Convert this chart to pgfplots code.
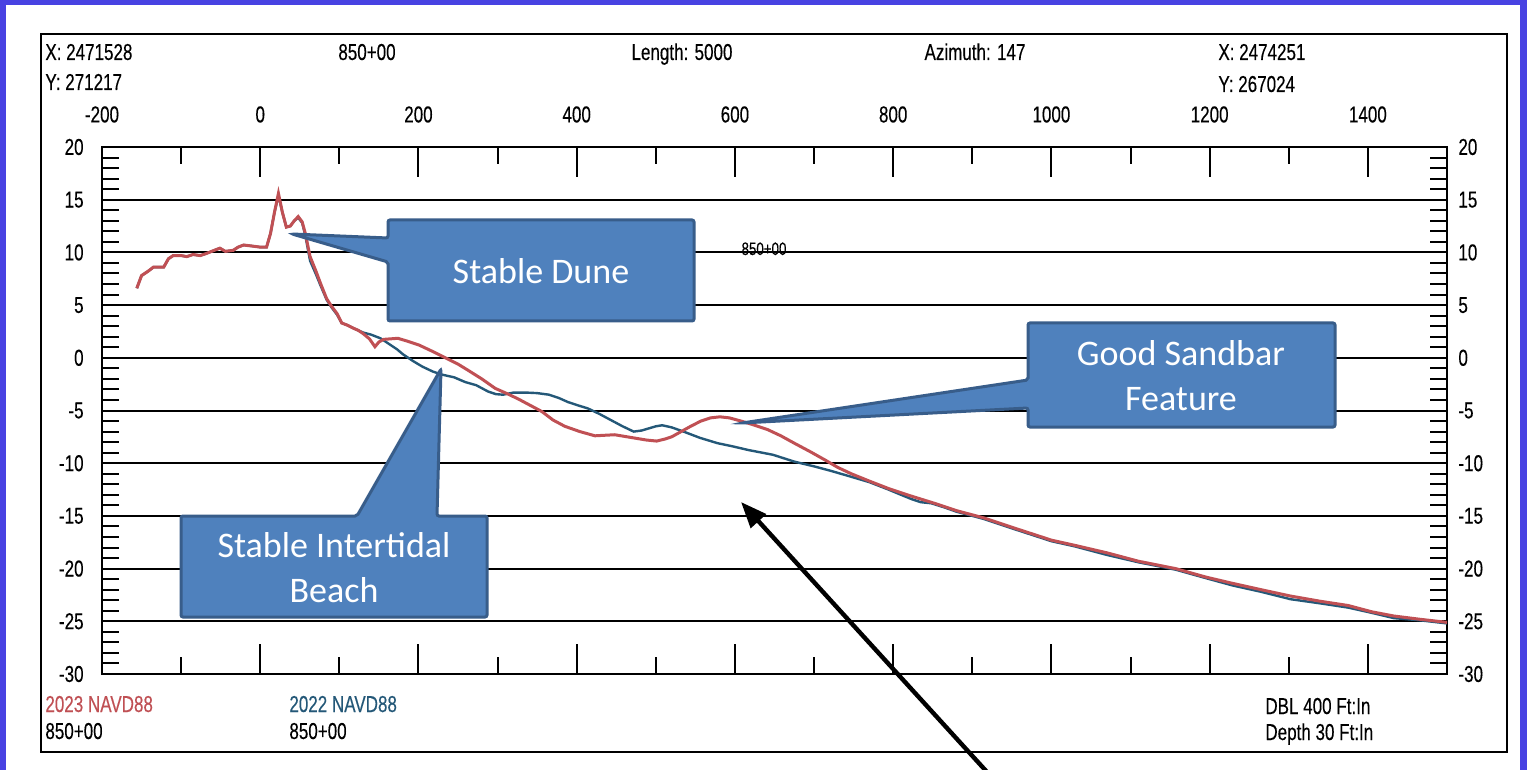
\documentclass[border=0pt]{standalone}
\usepackage{fontspec}
\setmainfont{Liberation Sans}[FakeStretch=0.74,FakeBold=0.25]
\newfontfamily\calloutfont{Carlito}
\usepackage{pgfplots}
\pgfplotsset{compat=1.18}
\usetikzlibrary{arrows.meta}
\definecolor{bgblue}{RGB}{72,66,226}
\definecolor{c23}{RGB}{192,80,84}
\definecolor{c22}{RGB}{36,88,120}
\definecolor{cfill}{RGB}{79,129,189}
\definecolor{cedge}{RGB}{56,93,138}

\begin{document}
\begin{tikzpicture}
\useasboundingbox (0pt,0pt) rectangle (763.5pt,-385pt);
\begin{scope}[x=0.5pt,y=-0.5pt]
\fill[bgblue] (0,0) rectangle (1527,770);
\fill[white] (6,5) rectangle (1520,770);
\draw[line width=1.1pt] (41,34) rectangle (1507,752);
\begin{scope}[every node/.style={inner sep=0pt, font=\fontsize{11.5}{13}\selectfont}]
\node[anchor=base west] at (45,60) {X: 2471528};
\node[anchor=base west] at (45,90) {Y: 271217};
\node[anchor=base] at (367,60) {850+00};
\node[anchor=base] at (682,60) {Length: 5000};
\node[anchor=base] at (975,60) {Azimuth: 147};
\node[anchor=base west] at (1218,60) {X: 2474251};
\node[anchor=base west] at (1218,92) {Y: 267024};
\node[anchor=base west, text=c23] at (45,712) {2023 NAVD88};
\node[anchor=base west] at (45,739) {850+00};
\node[anchor=base west, text=c22] at (289,712) {2022 NAVD88};
\node[anchor=base west] at (289,739) {850+00};
\node[anchor=base west] at (1265,714) {DBL 400 Ft:In};
\node[anchor=base west] at (1265,740) {Depth 30 Ft:In};
\node[anchor=base, font=\fontsize{9}{10}\selectfont] at (764,255) {850+00};
\end{scope}
\end{scope}

\begin{axis}[
  at={(51pt,-337pt)}, anchor=south west,
  scale only axis, width=672.5pt, height=263.5pt,
  xmin=-200, xmax=1500, ymin=-30, ymax=20,
  axis line style={line width=1.2pt},
  xtick={-200,0,200,400,600,800,1000,1200,1400},
  xticklabels={-200,0,200,400,600,800,1000,1200,1400},
  minor x tick num=1,
  ytick={-30,-25,-20,-15,-10,-5,0,5,10,15,20},
  yticklabels={-30,-25,-20,-15,-10,-5,0,5,10,15,20},
  minor y tick num=4,
  tick align=inside, tick pos=both,
  xticklabel pos=upper, yticklabel pos=left,
  major tick length=15pt, minor tick length=8.5pt,
  every tick/.style={black, line width=1pt},
  ymajorgrids, major grid style={black, line width=1pt},
  xticklabel style={anchor=south, inner sep=0pt, yshift=12pt, font=\fontsize{11.5}{13}\selectfont},
  yticklabel style={anchor=east, inner sep=0pt, xshift=-9pt, font=\fontsize{11.5}{13}\selectfont},
]
\addplot[c22, line width=1.2pt] coordinates {
(-156,6.6) (-150,7.8) (-142,8.2) (-135,8.6) (-122,8.6) (-116,9.4) (-110,9.7) (-100,9.7)
(-93,9.6) (-85,9.8) (-76,9.7) (-68,9.9) (-58,10.2) (-51,10.4) (-44,10.1) (-34,10.2)
(-28,10.5) (-21,10.7) (-10,10.6) (0,10.5) (8,10.5) (13,11.8) (18,13.8) (23,15.4)
(28,13.8) (33,12.4) (38,12.5) (43,13.0) (48,13.3) (53,12.8) (57,11.6) (63,9.2)
(70,8.0) (76,6.9) (84,5.5) (90,4.8) (97,4.1) (103,3.3) (110,3.1) (118,2.8)
(124,2.6) (130,2.4) (140,2.2) (152,1.85) (165,1.2) (173,0.8) (181,0.3) (193,-0.3)
(205,-0.84) (218,-1.3) (230,-1.6) (245,-1.85) (259,-2.3) (273,-2.6) (288,-3.2) (298,-3.45)
(307,-3.5) (320,-3.3) (336,-3.3) (350,-3.35) (365,-3.5) (377,-3.8) (389,-4.2) (401,-4.5)
(414,-4.8) (428,-5.3) (443,-5.9) (458,-6.5) (472,-7.0) (482,-6.9) (491,-6.7) (500,-6.5)
(508,-6.4) (520,-6.6) (535,-7.0) (556,-7.6) (578,-8.1) (597,-8.4) (617,-8.75) (648,-9.2)
(675,-9.85) (700,-10.3) (720,-10.7) (743,-11.2) (770,-11.8) (794,-12.5) (810,-13.0) (823,-13.4)
(835,-13.7) (848,-13.8) (865,-14.2) (880,-14.6) (915,-15.3) (955,-16.3) (1000,-17.4) (1030,-17.9)
(1070,-18.7) (1110,-19.4) (1157,-20.1) (1195,-20.9) (1229,-21.6) (1265,-22.2) (1302,-22.9) (1340,-23.3)
(1375,-23.7) (1405,-24.2) (1433,-24.7) (1465,-24.9) (1500,-25.2)
};
\addplot[c23, line width=1.5pt] coordinates {
(-156,6.6) (-150,7.8) (-142,8.2) (-135,8.6) (-122,8.6) (-116,9.4) (-110,9.7) (-100,9.7)
(-93,9.6) (-85,9.8) (-76,9.7) (-68,9.9) (-58,10.2) (-51,10.4) (-44,10.1) (-34,10.2)
(-28,10.5) (-21,10.7) (-10,10.6) (0,10.5) (8,10.5) (13,11.8) (18,13.8) (23,15.6)
(28,13.8) (33,12.4) (38,12.5) (43,13.0) (48,13.4) (53,12.9) (57,11.8) (63,9.6)
(70,8.3) (76,7.1) (84,5.6) (90,4.9) (97,4.2) (103,3.3) (110,3.1) (118,2.8)
(124,2.6) (130,2.3) (138,1.8) (145,1.05) (150,1.5) (156,1.75) (165,1.8) (174,1.85)
(185,1.6) (201,1.2) (218,0.6) (234,0) (250,-0.6) (263,-1.2) (280,-2.0) (297,-2.9)
(312,-3.4) (326,-3.9) (341,-4.5) (356,-5.1) (370,-5.9) (385,-6.5) (404,-7.0) (423,-7.4)
(448,-7.3) (472,-7.6) (488,-7.8) (501,-7.9) (512,-7.7) (520,-7.5) (532,-7.0) (544,-6.5)
(557,-6.0) (569,-5.7) (581,-5.6) (593,-5.7) (610,-6.05) (625,-6.4) (641,-6.8) (658,-7.4)
(675,-8.1) (695,-8.9) (714,-9.7) (730,-10.4) (747,-11.0) (770,-11.7) (794,-12.4) (822,-13.1)
(852,-13.8) (880,-14.5) (915,-15.2) (955,-16.2) (1000,-17.3) (1030,-17.8) (1070,-18.5) (1110,-19.3)
(1157,-20.0) (1195,-20.8) (1229,-21.4) (1265,-22.0) (1302,-22.6) (1340,-23.1) (1375,-23.5) (1405,-24.1)
(1433,-24.5) (1465,-24.8) (1500,-25.1)
};
\end{axis}

\begin{axis}[
  at={(51pt,-337pt)}, anchor=south west,
  scale only axis, width=672.5pt, height=263.5pt,
  xmin=-200, xmax=1500, ymin=-30, ymax=20,
  hide x axis, axis y line*=right, axis line style={draw=none},
  ytick={-30,-25,-20,-15,-10,-5,0,5,10,15,20},
  yticklabels={-30,-25,-20,-15,-10,-5,0,5,10,15,20},
  major tick length=0pt,
  yticklabel style={anchor=west, inner sep=0pt, xshift=5.5pt, font=\fontsize{11.5}{13}\selectfont},
]
\end{axis}

\begin{scope}[x=0.5pt,y=-0.5pt]
\filldraw[fill=cfill, draw=cedge, line width=1.5pt, rounded corners=1pt]
  (388,220) -- (694,220) -- (694,321) -- (388,321) -- (388,262) -- (292,234) -- (388,238) -- cycle;
\filldraw[fill=cfill, draw=cedge, line width=1.5pt, rounded corners=1pt]
  (1028,323) -- (1335,323) -- (1335,427) -- (1028,427) -- (1028,408) -- (742,423) -- (1028,380) -- cycle;
\filldraw[fill=cfill, draw=cedge, line width=1.5pt, rounded corners=1pt]
  (181,516) -- (357,516) -- (441,369) -- (437,516) -- (487,516) -- (487,617) -- (181,617) -- cycle;
\begin{scope}[every node/.style={text=white, align=center, font=\calloutfont\fontsize{18}{22.5}\selectfont}]
\node at (541,271) {Stable Dune};
\node at (1181,376) {Good Sandbar\\Feature};
\node at (334,568) {Stable Intertidal\\Beach};
\end{scope}
\draw[line width=2.2pt, -{Triangle[length=13pt,width=10pt]}] (987,772) -- (741,502);
\end{scope}
\end{tikzpicture}
\end{document}
